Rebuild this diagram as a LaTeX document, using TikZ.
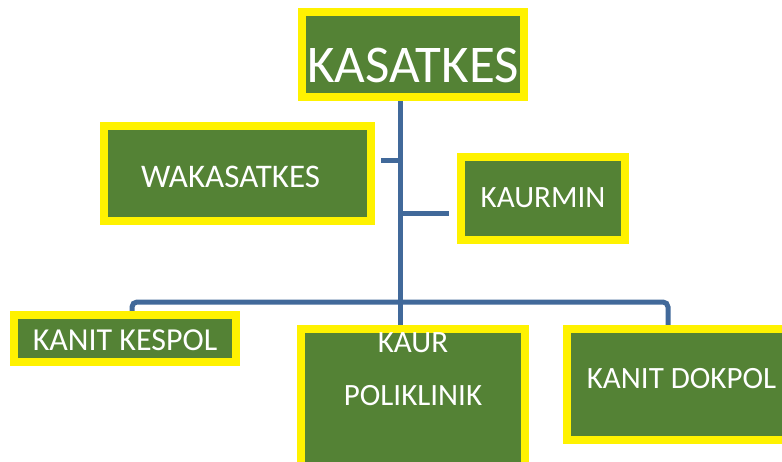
\documentclass[tikz,border=0pt]{standalone}
\usepackage{fontspec}
\setmainfont{Carlito}
\usetikzlibrary{backgrounds}
\definecolor{boxgreen}{HTML}{548235}
\definecolor{linkblue}{HTML}{41699A}

\begin{document}
\begin{tikzpicture}[x=1pt, y=-1pt,
    box/.style={draw=yellow, line width=8pt, fill=boxgreen, text=white, inner sep=0pt,
      font=\fontsize{31}{53}\selectfont, text depth=0pt},
    conn/.style={draw=linkblue, line width=5pt}]
      \useasboundingbox (0,0) rectangle (782,461);
      \clip (0,0) rectangle (782,461);
      % boxes
      \node[box, minimum width=222pt, minimum height=85pt, text height=55pt,
        font=\fontsize{53}{60}\selectfont] (kasatkes) at (413,54.5) {KASATKES};
      \node[box, minimum width=267pt, minimum height=95pt, text height=27pt,
        font=\fontsize{33}{40}\selectfont] (waka) at (237.5,173.5) {WAKASATKES\hspace*{14pt}};
      \node[box, minimum width=164pt, minimum height=83pt, text height=17pt] (kaurmin) at (543,198.5) {KAURMIN};
      \node[box, minimum width=222pt, minimum height=47pt, text height=23pt,
        font=\fontsize{32}{40}\selectfont] (kespol) at (125,338.5) {KANIT KESPOL};
      \node[box, minimum width=224pt, minimum height=142pt, align=center, text height=10pt] (kaur) at (413,400) {KAUR\\POLIKLINIK};
      \node[box, minimum width=229pt, minimum height=111pt, text height=7pt] (dokpol) at (681.5,384.5) {KANIT DOKPOL};
      % connectors
      \coordinate (bus) at (400,302);
      \coordinate (wj) at (400,160);
      \coordinate (kj) at (400,213);
      \begin{scope}[on background layer]
        \draw[conn] (kasatkes.south -| bus) -- (kaur.north -| bus);
        \draw[conn, shorten >=6pt] (wj) -- (wj -| waka.east);
        \draw[conn, shorten >=8pt] (kj) -- (kj -| kaurmin.west);
        \draw[conn, rounded corners=5pt] ([xshift=7pt]kespol.north) |- (bus) -| ([xshift=-13.5pt]dokpol.north);
      \end{scope}
    \end{tikzpicture}
\end{document}
